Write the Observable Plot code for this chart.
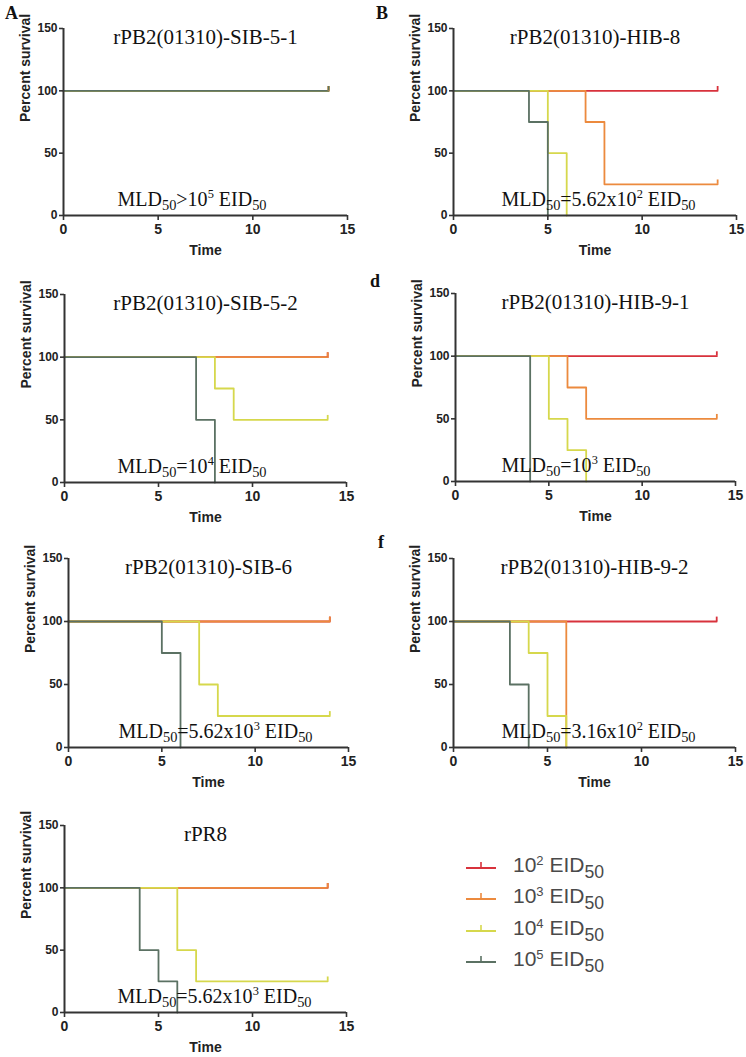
<!DOCTYPE html>
<html>
<head>
<meta charset="utf-8">
<script src="https://cdn.jsdelivr.net/npm/d3@7"></script>
<script src="https://cdn.jsdelivr.net/npm/@observablehq/plot@0.6"></script>
<style>
  body { margin: 0; background: #fff; }
  #fig { position: relative; width: 746px; height: 1057px; background: #fff; overflow: hidden; }
  .panel { position: absolute; }
  .letter { position: absolute; font-family: "Liberation Serif", "Times New Roman", serif; font-weight: bold; font-size: 18px; line-height: 1; color: #111; }
  .legrow { position: absolute; left: 466px; height: 24px; display: flex; align-items: center; font-family: "Liberation Sans", Arial, sans-serif; font-size: 21px; color: #4a4a4a; white-space: nowrap; }
  .legrow svg { margin-right: 17px; }
  .legrow sup { font-size: 62%; vertical-align: 0.55em; line-height: 0; }
  .legrow sub { font-size: 84%; vertical-align: -0.32em; line-height: 0; }
</style>
</head>
<body>
<div id="fig"></div>
<script>
// ---------- data ----------
const doses = ["10^2", "10^3", "10^4", "10^5"];
const doseColors = ["#d8323c", "#ec8a3e", "#d6d84c", "#5b7163"];
const xTicks = [0, 5, 10, 15];
const yTicks = [0, 50, 100, 150];

const panelTitles = ["rPB2(01310)-SIB-5-1", "rPB2(01310)-HIB-8", "rPB2(01310)-SIB-5-2",
  "rPB2(01310)-HIB-9-1", "rPB2(01310)-SIB-6", "rPB2(01310)-HIB-9-2", "rPR8"];
const panelLetters = ["A", "B", "", "d", "", "f", ""];
const mldLabels = ["MLD_{50}>10^{5} EID_{50}", "MLD_{50}=5.62x10^{2} EID_{50}", "MLD_{50}=10^{4} EID_{50}",
  "MLD_{50}=10^{3} EID_{50}", "MLD_{50}=5.62x10^{3} EID_{50}", "MLD_{50}=3.16x10^{2} EID_{50}",
  "MLD_{50}=5.62x10^{3} EID_{50}"];

// survival curves: per dose (10^2, 10^3, 10^4, 10^5) the [day, percent] change points
const sib51 = [
  [[0, 100], [14, 100]],
  [[0, 100], [14, 100]],
  [[0, 100], [14, 100]],
  [[0, 100], [14, 100]]
];
const hib8 = [
  [[0, 100], [14, 100]],
  [[0, 100], [7, 75], [8, 25], [14, 25]],
  [[0, 100], [5, 50], [6, 0]],
  [[0, 100], [4, 75], [5, 0]]
];
const sib52 = [
  [[0, 100], [14, 100]],
  [[0, 100], [14, 100]],
  [[0, 100], [8, 75], [9, 50], [14, 50]],
  [[0, 100], [7, 50], [8, 0]]
];
const hib91 = [
  [[0, 100], [14, 100]],
  [[0, 100], [6, 75], [7, 50], [14, 50]],
  [[0, 100], [5, 50], [6, 25], [7, 0]],
  [[0, 100], [4, 0]]
];
const sib6 = [
  [[0, 100], [14, 100]],
  [[0, 100], [14, 100]],
  [[0, 100], [7, 50], [8, 25], [14, 25]],
  [[0, 100], [5, 75], [6, 0]]
];
const hib92 = [
  [[0, 100], [14, 100]],
  [[0, 100], [6, 0]],
  [[0, 100], [4, 75], [5, 25], [6, 0]],
  [[0, 100], [3, 50], [4, 0]]
];
const rpr8 = [
  [[0, 100], [14, 100]],
  [[0, 100], [14, 100]],
  [[0, 100], [6, 50], [7, 25], [14, 25]],
  [[0, 100], [4, 50], [5, 25], [6, 0]]
];
const panelCurves = [sib51, hib8, sib52, hib91, sib6, hib92, rpr8];

// ---------- layout ----------
const frames = [
  {x0: 63, x1: 347, yTop: 28, yBot: 215, mldDx: 54, lx: 5, ly: 4},
  {x0: 453, x1: 736, yTop: 28, yBot: 215, mldDx: 48, lx: 376, ly: 4},
  {x0: 64, x1: 346, yTop: 294, yBot: 482, mldDx: 53},
  {x0: 455, x1: 735, yTop: 293, yBot: 481, mldDx: 46, lx: 370, ly: 272},
  {x0: 68, x1: 348, yTop: 558, yBot: 747, mldDx: 50},
  {x0: 453, x1: 735, yTop: 558, yBot: 747, mldDx: 48, lx: 378, ly: 533},
  {x0: 64, x1: 346, yTop: 825, yBot: 1012, mldDx: 53}
];

const fig = document.getElementById("fig");
const SANS = "Liberation Sans, Arial, sans-serif";
const SERIF = "Liberation Serif, Times New Roman, serif";

function applyRich(svg) {
  d3.select(svg).selectAll("text").each(function () {
    const s = this.textContent;
    if (!/[_^]\{/.test(s)) return;
    const fs = parseFloat(getComputedStyle(this).fontSize) || 20;
    const parts = s.split(/([_^]\{[^}]*\})/).filter(p => p.length);
    while (this.firstChild) this.removeChild(this.firstChild);
    let shift = 0;
    for (const p of parts) {
      const t = document.createElementNS("http://www.w3.org/2000/svg", "tspan");
      let target = 0, txt = p, size = null;
      if (p.startsWith("_{")) { target = fs * 0.22; txt = p.slice(2, -1); size = fs * 0.72; }
      else if (p.startsWith("^{")) { target = -fs * 0.4; txt = p.slice(2, -1); size = fs * 0.62; }
      t.setAttribute("dy", target - shift);
      shift = target;
      if (size) t.setAttribute("font-size", size);
      t.textContent = txt;
      this.appendChild(t);
    }
  });
}

const mL = 70, mR = 16, mT = 14, mB = 46;

panelCurves.forEach((curves, k) => {
  const f = frames[k];
  const rows = [];
  curves.forEach((pts, i) => pts.forEach(([t, v]) => rows.push({dose: doses[i], t, v})));
  const ends = curves
    .map((pts, i) => ({dose: doses[i], t: pts[pts.length - 1][0], v: pts[pts.length - 1][1]}))
    .filter(d => d.v > 0);

  const chart = Plot.plot({
    width: f.x1 - f.x0 + mL + mR,
    height: f.yBot - f.yTop + mT + mB,
    marginLeft: mL, marginRight: mR, marginTop: mT, marginBottom: mB,
    style: {background: "transparent", fontFamily: SANS, overflow: "visible", color: "#222"},
    x: {domain: [0, 15]},
    y: {domain: [0, 150]},
    color: {domain: doses, range: doseColors},
    marks: [
      Plot.line(rows, {x: "t", y: "v", z: "dose", stroke: "dose", curve: "step-after", strokeWidth: 1.8}),
      Plot.ruleX(ends, {x: "t", y1: "v", y2: d => d.v + 3.5, stroke: "dose", strokeWidth: 1.8}),
      Plot.ruleY([0], {stroke: "#333", strokeWidth: 2}),
      Plot.ruleX([0], {stroke: "#333", strokeWidth: 2}),
      Plot.axisY({ticks: yTicks, tickSize: 4, tickPadding: 2, label: null, fontSize: 12, fontWeight: "bold", stroke: "#333", strokeWidth: 1.6, fill: "#222"}),
      Plot.axisX({ticks: xTicks, tickSize: 5, tickPadding: 4, label: null, fontSize: 14, fontWeight: "bold", stroke: "#333", strokeWidth: 1.6, fill: "#222"}),
      Plot.text(["Percent survival"], {text: d => d, frameAnchor: "left", rotate: -90, dx: -38, fontSize: 14, fontWeight: "bold", fill: "#222", lineAnchor: "middle"}),
      Plot.text(["Time"], {text: d => d, frameAnchor: "bottom", dy: 35, fontSize: 14, fontWeight: "bold", fill: "#222", lineAnchor: "middle"}),
      Plot.text([panelTitles[k]], {text: d => d, frameAnchor: "top", dy: 9, lineAnchor: "middle", fontFamily: SERIF, fontSize: 21, fill: "#111"}),
      Plot.text([mldLabels[k]], {text: d => d, frameAnchor: "bottom-left", textAnchor: "start", lineAnchor: "bottom", dx: f.mldDx, dy: -10, fontFamily: SERIF, fontSize: 20, fill: "#111"})
    ]
  });
  chart.classList.add("panel");
  chart.style.left = (f.x0 - mL) + "px";
  chart.style.top = (f.yTop - mT) + "px";
  chart.style.maxWidth = "none";
  fig.appendChild(chart);
  applyRich(chart);

  if (panelLetters[k]) {
    const L = document.createElement("div");
    L.className = "letter";
    L.textContent = panelLetters[k];
    L.style.left = f.lx + "px";
    L.style.top = f.ly + "px";
    fig.appendChild(L);
  }
});

// ---------- legend ----------
const legendTop = 853;
doses.forEach((d, i) => {
  const row = d3.select(fig).append("div").attr("class", "legrow").style("top", (legendTop + i * 31.3) + "px");
  const s = row.append("svg").attr("width", 30).attr("height", 12);
  s.append("line").attr("x1", 0).attr("x2", 30).attr("y1", 9).attr("y2", 9).attr("stroke", doseColors[i]).attr("stroke-width", 2);
  s.append("line").attr("x1", 15).attr("x2", 15).attr("y1", 9).attr("y2", 3).attr("stroke", doseColors[i]).attr("stroke-width", 1.6);
  const [base, exp] = d.split("^");
  const t = row.append("span");
  t.append("span").text(base);
  t.append("sup").text(exp);
  t.append("span").text(" EID");
  t.append("sub").text("50");
});
</script>
</body>
</html>
